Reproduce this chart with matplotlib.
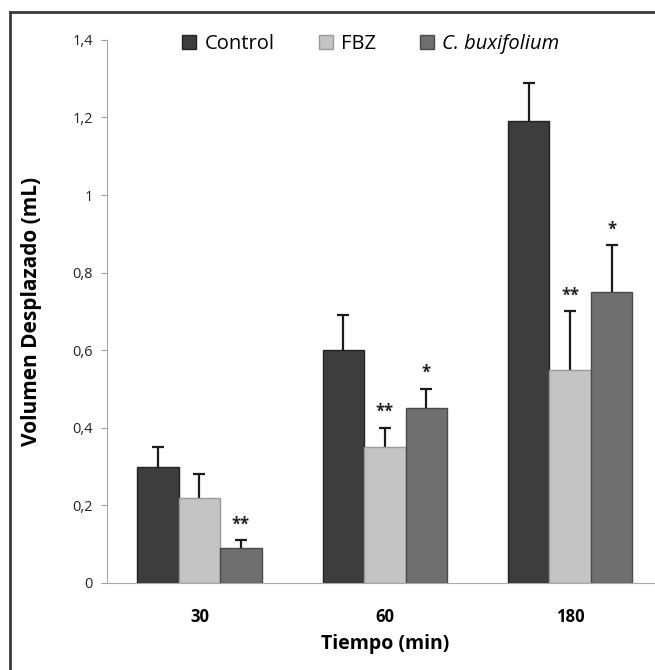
import numpy as np
import matplotlib.pyplot as plt
from matplotlib.lines import Line2D

# data
tiempos = ['30', '60', '180']
series = ['Control', 'FBZ', 'C. buxifolium']
control = [0.30, 0.60, 1.19]
control_err = [0.05, 0.09, 0.10]
fbz = [0.22, 0.35, 0.55]
fbz_err = [0.06, 0.05, 0.15]
cbux = [0.09, 0.45, 0.75]
cbux_err = [0.02, 0.05, 0.12]
# significance marks: (group, series, text)
marks = [(0, 2, '**'), (1, 1, '**'), (1, 2, '*'), (2, 1, '**'), (2, 2, '*')]

colors = ['#3d3d3d', '#c4c4c4', '#6f6f6f']
edges = ['#222222', '#9a9a9a', '#4a4a4a']

plt.rcParams['font.family'] = ['Open Sans', 'DejaVu Sans']

fig = plt.figure(figsize=(6.55, 6.70), dpi=100)
ax = fig.add_axes([0.163, 0.130, 0.849, 0.8104])

x = np.arange(len(tiempos))
w = 0.224
vals = [control, fbz, cbux]
errs = [control_err, fbz_err, cbux_err]
for i in range(3):
    ax.bar(x + (i - 1) * w, vals[i], w, color=colors[i], edgecolor=edges[i],
           linewidth=1.0, label=series[i], zorder=2)
    # symmetric bars drawn behind the bars, so only the upper half shows
    ax.errorbar(x + (i - 1) * w, vals[i], yerr=errs[i], fmt='none',
                ecolor='#1a1a1a', elinewidth=1.6, capsize=4, capthick=1.6, zorder=1)

for g, s, txt in marks:
    top = vals[s][g] + errs[s][g]
    ax.annotate(txt, (x[g] + (s - 1) * w, top), xytext=(0, 5), textcoords='offset points',
                ha='center', va='bottom', fontsize=12, fontweight='bold', color='#222222')

ax.set_xlim(-0.5, 2.5)
ax.set_ylim(0, 1.4)
ax.set_yticks(np.arange(0, 1.41, 0.2))
ax.set_yticklabels(['0', '0,2', '0,4', '0,6', '0,8', '1', '1,2', '1,4'])
ax.set_xticks(x)
ax.set_xticklabels(tiempos, fontweight='bold', fontsize=12)
ax.tick_params(axis='y', direction='out', length=4, color='#a0a0a0', labelsize=10.5,
               labelcolor='#222222', pad=6)
ax.tick_params(axis='x', length=0, pad=18)
for side in ['top', 'right']:
    ax.spines[side].set_visible(False)
ax.spines['left'].set_color('#a8a8a8')
ax.spines['bottom'].set_color('#a8a8a8')

ax.set_ylabel('Volumen Desplazado (mL)', fontweight='bold', fontsize=15, labelpad=22)
ax.set_xlabel('Tiempo (min)', fontweight='bold', fontsize=14, labelpad=6)

leg = ax.legend(loc='upper center', bbox_to_anchor=(0.475, 1.045), ncol=3, frameon=False,
                fontsize=14.5, handlelength=0.7, handleheight=0.7, columnspacing=2.2,
                handletextpad=0.4)
leg.get_texts()[2].set_fontstyle('italic')

# outer frame
fig.add_artist(Line2D([10 / 655, 10 / 655], [0, 1 - 12 / 670], color='#3a3a3a', linewidth=2))
fig.add_artist(Line2D([10 / 655, 1], [1 - 12 / 670, 1 - 12 / 670], color='#3a3a3a', linewidth=2))

fig.savefig('out.png', dpi=100)
